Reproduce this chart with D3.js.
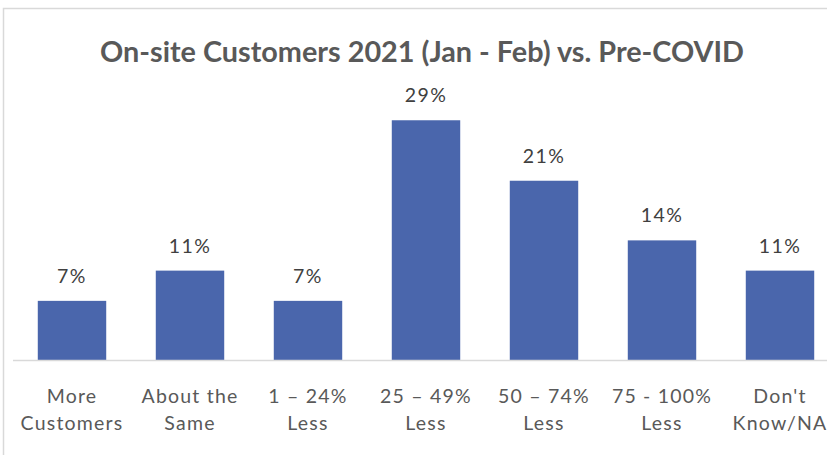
<!DOCTYPE html>
<html>
<head>
<meta charset="utf-8">
<script src="https://cdn.jsdelivr.net/npm/d3@7"></script>
<style>
  html, body { margin: 0; padding: 0; background: #fff; }
  svg { display: block; }
  text { font-family: Lato, "Open Sans", sans-serif; }
</style>
</head>
<body>
<div id="chart"></div>
<script>
// categories, two lines each
var categoryLine1 = ["More", "About the", "1 \u2013 24%", "25 \u2013 49%", "50 \u2013 74%", "75 - 100%", "Don't"];
var categoryLine2 = ["Customers", "Same", "Less", "Less", "Less", "Less", "Know/NA"];
// share of respondents in %
var shareValues = [7.1, 10.7, 7.1, 28.6, 21.4, 14.3, 10.7];
var shareLabels = ["7%", "11%", "7%", "29%", "21%", "14%", "11%"];

var chartTitle = "On-site Customers 2021 (Jan - Feb) vs. Pre-COVID";

var width = 827, height = 455;
var barColor = "#4a66ac";
var textColor = "#595959";

var svg = d3.select("#chart").append("svg")
    .attr("width", width)
    .attr("height", height);

// chart frame (runs off the right and bottom edges)
svg.append("rect")
    .attr("x", 3.5).attr("y", 8.5)
    .attr("width", 900).attr("height", 500)
    .attr("fill", "#fff")
    .attr("stroke", "#d9d9d9")
    .attr("stroke-width", 1.5);

svg.append("text")
    .attr("x", 422).attr("y", 62)
    .attr("text-anchor", "middle")
    .attr("font-size", 28.8)
    .attr("font-weight", "bold")
    .attr("fill", textColor)
    .text(chartTitle);

var x = d3.scaleBand()
    .domain(d3.range(shareValues.length))
    .range([13, 839])
    .paddingInner(0.42)
    .paddingOuter(0.21);

var y = d3.scaleLinear()
    .domain([0, 35])
    .range([360.5, 66.5]);

svg.selectAll("rect.bar")
    .data(shareValues)
    .enter()
    .append("rect")
    .attr("class", "bar")
    .attr("x", function (d, i) { return x(i); })
    .attr("y", function (d) { return y(d); })
    .attr("width", x.bandwidth())
    .attr("height", function (d) { return y(0) - y(d); })
    .attr("fill", barColor);

svg.selectAll("text.value")
    .data(shareValues)
    .enter()
    .append("text")
    .attr("class", "value")
    .attr("x", function (d, i) { return x(i) + x.bandwidth() / 2; })
    .attr("y", function (d) { return y(d) - 18; })
    .attr("text-anchor", "middle")
    .attr("font-size", 19.5)
    .attr("letter-spacing", 1.5)
    .attr("fill", "#404040")
    .text(function (d, i) { return shareLabels[i]; });

// baseline
svg.append("line")
    .attr("x1", 13).attr("x2", width)
    .attr("y1", y(0)).attr("y2", y(0))
    .attr("stroke", "#d9d9d9")
    .attr("stroke-width", 1.5);

var labels = svg.selectAll("text.cat")
    .data(categoryLine1)
    .enter()
    .append("text")
    .attr("class", "cat")
    .attr("text-anchor", "middle")
    .attr("font-size", 19.5)
    .attr("letter-spacing", 1.2)
    .attr("fill", textColor);

labels.append("tspan")
    .attr("x", function (d, i) { return x(i) + x.bandwidth() / 2; })
    .attr("y", 403)
    .text(function (d) { return d; });

labels.append("tspan")
    .attr("x", function (d, i) { return x(i) + x.bandwidth() / 2; })
    .attr("y", 430)
    .text(function (d, i) { return categoryLine2[i]; });
</script>
</body>
</html>
